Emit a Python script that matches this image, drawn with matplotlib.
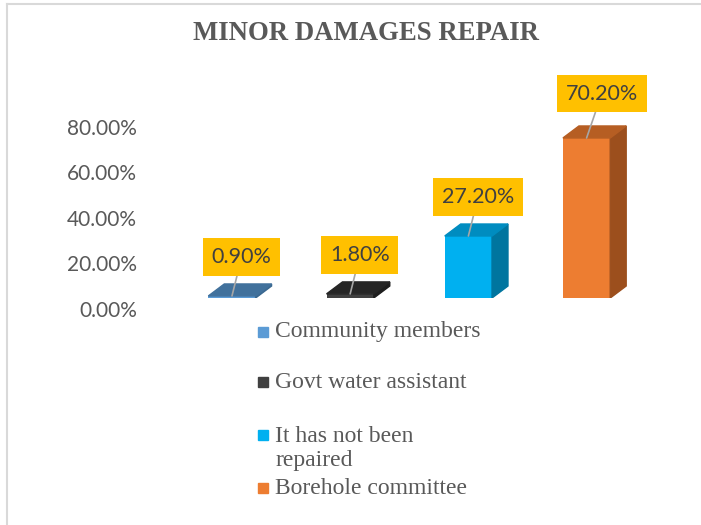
import numpy as np
import matplotlib.pyplot as plt
from matplotlib.patches import Polygon, Rectangle
from matplotlib.transforms import ScaledTranslation

categories = ['Community members', 'Govt water assistant',
              'It has not been\nrepaired', 'Borehole committee']
values = [0.9, 1.8, 27.2, 70.2]
labels = ['0.90%', '1.80%', '27.20%', '70.20%']
yticks = [0, 20, 40, 60, 80]

front = ['#5B9BD5', '#404040', '#00B0F0', '#ED7D31']
top = ['#41719C', '#262626', '#008CC0', '#B65E23']
side = ['#3A6890', '#1E1E1E', '#00759F', '#9C4F1D']
legend_col = ['#5B9BD5', '#404040', '#00B0F0', '#ED7D31']

fig = plt.figure(figsize=(7.01, 5.25), dpi=100)
# chart border
fig.add_artist(plt.Line2D([6.5 / 701, 6.5 / 701], [0, 1 - 4 / 525], color='#D9D9D9', lw=1.5))
fig.add_artist(plt.Line2D([6.5 / 701, 1], [1 - 4 / 525, 1 - 4 / 525], color='#D9D9D9', lw=1.5))

ax = fig.add_axes([190 / 701, 227 / 525, 470 / 701, 238 / 525])
ax.set_xlim(-0.355, 3.621)
ax.set_ylim(0, 104.4)
for s in ax.spines.values():
    s.set_visible(False)
ax.set_xticks([])
ax.set_yticks(yticks)
ax.set_yticklabels([f'{t:.2f}%' for t in yticks])
ax.tick_params(axis='y', length=0, pad=38, labelsize=15, labelcolor='#595959')
for lab in ax.get_yticklabels():
    lab.set_fontfamily('Lato')
    lab.set_transform(lab.get_transform() + ScaledTranslation(0, -11 / 100, fig.dpi_scale_trans))

w = 0.4
dx = 0.135
dy = 5.26
x = np.arange(len(values))
ax.bar(x, values, width=w, color=front, zorder=2)
for i, v in enumerate(values):
    l, r = x[i] - w / 2, x[i] + w / 2
    ax.add_patch(Polygon([(l, v), (r, v), (r + dx, v + dy), (l + dx, v + dy)],
                         closed=True, color=top[i], zorder=3))
    ax.add_patch(Polygon([(r, 0), (r + dx, dy), (r + dx, v + dy), (r, v)],
                         closed=True, color=side[i], zorder=2))
    off = (11, 32) if i == 3 else (7, 28)
    ax.annotate(labels[i], xy=(x[i], v), xytext=off,
                textcoords='offset points', ha='center', va='center',
                fontsize=15.5, family='Lato', color='#404040', annotation_clip=False,
                bbox=dict(boxstyle='square,pad=0.4', fc='#FFC000', ec='none'),
                arrowprops=dict(arrowstyle='-', color='#A6A6A6', lw=1.2,
                                shrinkA=0, shrinkB=0),
                zorder=5)

fig.text(366 / 701, 1 - 33 / 525, 'MINOR DAMAGES REPAIR', ha='center', va='center',
         fontsize=19.3, fontweight='bold', family='Liberation Serif', color='#595959')

# legend
leg_y = [332, 382, 435, 488]
for i, c in enumerate(categories):
    y = 1 - leg_y[i] / 525
    fig.add_artist(Rectangle((258 / 701, y - 5 / 525), 10 / 701, 10 / 525,
                             color=legend_col[i], transform=fig.transFigure))
    if '\n' in c:
        fig.text(275 / 701, y + 9 / 525, c, ha='left', va='top',
                 fontsize=17, family='Liberation Serif', color='#595959',
                 linespacing=1.2)
    else:
        fig.text(275 / 701, y, c, ha='left', va='center',
                 fontsize=17, family='Liberation Serif', color='#595959')

fig.savefig('out.png', dpi=100)
